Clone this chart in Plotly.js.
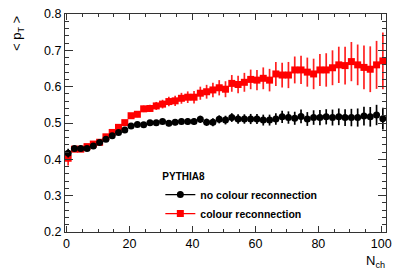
<!DOCTYPE html>
<html>
<head>
<meta charset="utf-8">
<script src="https://cdn.plot.ly/plotly-3.0.1.min.js"></script>
<style>html,body{margin:0;padding:0;background:#fff;}#chart{width:407px;height:277px;}</style>
</head>
<body>
<div id="chart"></div>
<script>
// N_ch bin centres
const nch = [0.5, 2.5, 4.5, 6.5, 8.5, 10.5, 12.5, 14.5, 16.5, 18.5,
  20.5, 22.5, 24.5, 26.5, 28.5, 30.5, 32.5, 34.5, 36.5, 38.5,
  40.5, 42.5, 44.5, 46.5, 48.5, 50.5, 52.5, 54.5, 56.5, 58.5,
  60.5, 62.5, 64.5, 66.5, 68.5, 70.5, 72.5, 74.5, 76.5, 78.5,
  80.5, 82.5, 84.5, 86.5, 88.5, 90.5, 92.5, 94.5, 96.5, 98.5, 100.5];

// <pT> without colour reconnection
const ptNoCR = [0.417, 0.430, 0.430, 0.430, 0.437, 0.446, 0.455, 0.465, 0.474, 0.481,
  0.492, 0.496, 0.495, 0.501, 0.501, 0.504, 0.499, 0.502, 0.504, 0.504,
  0.504, 0.510, 0.502, 0.502, 0.510, 0.508, 0.515, 0.511, 0.511, 0.511,
  0.511, 0.508, 0.508, 0.511, 0.517, 0.515, 0.513, 0.518, 0.511, 0.515,
  0.515, 0.517, 0.515, 0.517, 0.515, 0.515, 0.515, 0.519, 0.517, 0.522, 0.512];
const errNoCR = [0.012, 0.005, 0.004, 0.004, 0.004, 0.004, 0.004, 0.004, 0.005, 0.005,
  0.005, 0.006, 0.006, 0.006, 0.007, 0.007, 0.008, 0.008, 0.008, 0.009,
  0.009, 0.010, 0.010, 0.011, 0.011, 0.012, 0.012, 0.013, 0.013, 0.014,
  0.014, 0.015, 0.015, 0.016, 0.017, 0.017, 0.018, 0.019, 0.019, 0.020,
  0.021, 0.021, 0.022, 0.023, 0.023, 0.024, 0.025, 0.026, 0.027, 0.028, 0.030];

// <pT> with colour reconnection
const ptCR = [0.403, 0.428, 0.428, 0.435, 0.442, 0.447, 0.462, 0.474, 0.488, 0.501,
  0.520, 0.524, 0.539, 0.540, 0.547, 0.552, 0.559, 0.561, 0.568, 0.571,
  0.571, 0.582, 0.586, 0.591, 0.597, 0.593, 0.609, 0.606, 0.612, 0.620,
  0.618, 0.623, 0.618, 0.635, 0.632, 0.632, 0.646, 0.646, 0.640, 0.635,
  0.646, 0.646, 0.652, 0.660, 0.658, 0.669, 0.660, 0.653, 0.648, 0.660, 0.671];
const errCR = [0.020, 0.006, 0.005, 0.005, 0.005, 0.005, 0.005, 0.006, 0.006, 0.007,
  0.007, 0.008, 0.009, 0.010, 0.011, 0.012, 0.013, 0.014, 0.015, 0.016,
  0.017, 0.018, 0.019, 0.020, 0.021, 0.022, 0.023, 0.024, 0.026, 0.027,
  0.028, 0.030, 0.031, 0.033, 0.034, 0.036, 0.037, 0.039, 0.040, 0.042,
  0.044, 0.046, 0.048, 0.050, 0.052, 0.054, 0.056, 0.060, 0.063, 0.066, 0.078];

const seriesNames = ['no colour reconnection', 'colour reconnection'];
const legendTitle = 'PYTHIA8';

const FONT = 'Liberation Sans, Arial, Helvetica, sans-serif';

const traces = [
  {
    x: nch, y: ptCR, type: 'scatter', mode: 'markers', showlegend: false,
    marker: {symbol: 'square', size: 7, color: '#ff0000'},
    error_y: {type: 'data', array: errCR, visible: true, color: '#ff2020', thickness: 1.7, width: 0}
  },
  {
    x: nch, y: ptNoCR, type: 'scatter', mode: 'markers', showlegend: false,
    marker: {symbol: 'circle', size: 7, color: '#000000'},
    error_y: {type: 'data', array: errNoCR, visible: true, color: '#000000', thickness: 1.7, width: 0}
  },
  // legend entries (line + marker samples)
  {
    x: [null], y: [null], type: 'scatter', mode: 'lines+markers', name: seriesNames[0],
    marker: {symbol: 'circle', size: 7, color: '#000000'},
    line: {color: '#000000', width: 1.3}
  },
  {
    x: [null], y: [null], type: 'scatter', mode: 'lines+markers', name: seriesNames[1],
    marker: {symbol: 'square', size: 7, color: '#ff0000'},
    line: {color: '#ff0000', width: 1.3}
  }
];

const axisCommon = {
  showgrid: false, zeroline: false,
  showline: true, linecolor: '#333', linewidth: 1,
  mirror: 'allticks', ticks: 'inside', tickcolor: '#333', tickwidth: 1,
  tickfont: {family: FONT, size: 12.5, color: '#000'}
};

const layout = {
  width: 407, height: 277,
  margin: {l: 65, r: 21, t: 14, b: 45},
  paper_bgcolor: '#fff', plot_bgcolor: '#fff',
  font: {family: FONT, color: '#000'},
  xaxis: Object.assign({}, axisCommon, {
    range: [-0.5, 101.5], tick0: 0, dtick: 20, ticklen: 6,
    minor: {dtick: 5, ticks: 'inside', ticklen: 3, tickcolor: '#333'}
  }),
  yaxis: Object.assign({}, axisCommon, {
    range: [0.2, 0.8], tick0: 0.2, dtick: 0.1, tickformat: '.1f', ticklen: 8,
    minor: {dtick: 0.02, ticks: 'inside', ticklen: 4, tickcolor: '#333'}
  }),
  showlegend: true,
  legend: {
    x: 0.297, y: 0.298, xanchor: 'left', yanchor: 'top',
    bgcolor: 'rgba(0,0,0,0)', borderwidth: 0,
    font: {family: FONT, size: 10.5, color: '#000', weight: 'bold'},
    title: {text: legendTitle, font: {family: FONT, size: 10, color: '#000', weight: 'bold'}},
    itemwidth: 30, tracegroupgap: 0
  },
  annotations: [
    {
      xref: 'paper', yref: 'paper', x: -0.148, y: 1.0, xanchor: 'center', yanchor: 'top',
      text: '&lt; p<sub>T</sub> &gt;', textangle: -90, showarrow: false,
      font: {family: FONT, size: 13, color: '#000'}
    },
    {
      xref: 'paper', yref: 'paper', x: 1.003, y: -0.085, xanchor: 'right', yanchor: 'top',
      text: 'N<sub>ch</sub>', showarrow: false,
      font: {family: FONT, size: 13, color: '#000'}
    }
  ]
};

Plotly.newPlot('chart', traces, layout, {staticPlot: true, displayModeBar: false});
</script>
</body>
</html>
